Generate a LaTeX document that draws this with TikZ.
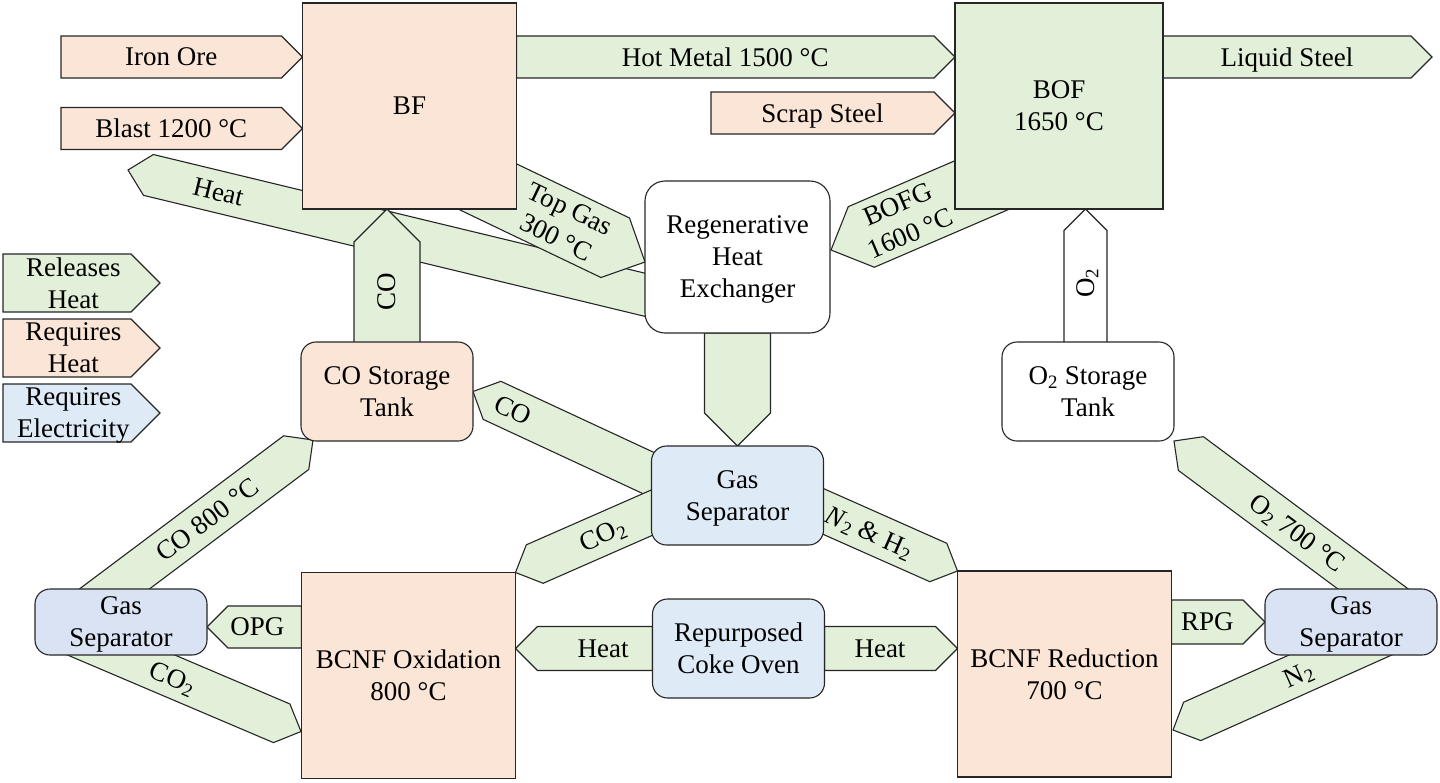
\documentclass[tikz,border=0pt]{standalone}
\usepackage{fontspec}
\setmainfont{Liberation Serif}
\usetikzlibrary{calc,backgrounds}

\definecolor{relgreen}{HTML}{E2F0D9}
\definecolor{reqpeach}{HTML}{FBE5D6}
\definecolor{elecblue}{HTML}{DEEBF7}
\definecolor{sepblue}{HTML}{DAE3F3}
\definecolor{edge}{HTML}{262626}

\tikzset{
  txt/.style={font=\fontsize{27}{32}\selectfont, align=center, text depth=0pt},
  unit/.style={txt, draw=edge, line width=1.1pt, inner sep=0pt, outer sep=0pt},
  furnace/.style={unit, minimum width=214pt, minimum height=206pt},
  tank/.style={unit, rounded corners=15pt, minimum width=172pt, minimum height=99pt},
  sepunit/.style={tank, minimum height=66pt, fill=sepblue},
  flowline/.style={draw=edge, line width=1.1pt, line join=miter},
  flowlabel/.style={txt, inner sep=0pt},
}

% fat arrow: [label opts]{label name}{fill}{tail}{tip}{half width}{label}
\newcommand{\flowarrow}[7][]{%
  \draw[flowline, fill=#3]
    ($(#4)!#6!90:(#5)$) -- ($($(#5)!#6!(#4)$)!#6!-90:(#4)$) -- (#5)
    -- ($($(#5)!#6!(#4)$)!#6!90:(#4)$) -- ($(#4)!#6!-90:(#5)$) -- cycle;
  \path (#4) -- ($(#5)!#6!(#4)$) node[flowlabel, sloped, pos=0.5, #1] (#2) {#7};}

\begin{document}
\begin{tikzpicture}[x=1pt, y=-1pt]
\useasboundingbox (0,0) rectangle (1440,782);

% units
\node[furnace, fill=reqpeach] (BF) at (409.5,106) {BF};
\node[furnace, fill=relgreen, minimum width=208pt] (BOF) at (1059,106) {BOF\\1650 °C};
\node[tank, fill=white, minimum width=185pt, minimum height=152pt, rounded corners=20pt] (HX) at (737.5,257) {Regenerative\\Heat\\Exchanger};
\node[tank, fill=reqpeach] (COtank) at (387,391.5) {CO Storage\\Tank};
\node[tank, fill=white] (O2tank) at (1088,391.5) {O\textsubscript{2} Storage\\Tank};
\node[tank, fill=elecblue] (GS) at (737.5,495.5) {Gas\\Separator};
\node[sepunit] (GSleft) at (121,622) {Gas\\Separator};
\node[sepunit] (GSright) at (1351,622) {Gas\\Separator};
\node[furnace, fill=reqpeach] (ox) at (408.5,675.5) {BCNF Oxidation\\800 °C};
\node[furnace, fill=reqpeach] (red) at (1064.5,674) {BCNF Reduction\\700 °C};
\node[tank, fill=elecblue] (coke) at (738.5,648.5) {Repurposed\\Coke Oven};

% free ends
\coordinate (ore) at (61,57);
\coordinate (blast) at (61,128.5);
\coordinate (scrap) at (711,113);
\coordinate (steel) at (1432,57);
\coordinate (hxheat) at (679,303);
\coordinate (heatend) at (128,170);
\coordinate (topgas) at (430,159);
\coordinate (topgasend) at (645,262);
\coordinate (bofg) at (1040,160);
\coordinate (bofgend) at (831,250);
\coordinate (cotail) at (387,350);
\coordinate (o2tail) at (1085.5,350);
\coordinate (gsco) at (700,497);
\coordinate (gsco2) at (700,491.5);
\coordinate (gsnh) at (775,490);
\coordinate (co800) at (73,620);
\coordinate (co800end) at (313,440);
\coordinate (opg) at (207,627);
\coordinate (lco2) at (60,629);
\coordinate (lco2end) at (301,731.5);
\coordinate (rn2) at (1400,628.3);
\coordinate (rn2end) at (1173,730);
\coordinate (o2hot) at (1400,609);
\coordinate (legrel) at (3,283);
\coordinate (legreltip) at (160,283);
\coordinate (legreq) at (3,348);
\coordinate (legreqtip) at (160,348);
\coordinate (legel) at (3,413);
\coordinate (legeltip) at (160,413);

\begin{scope}[on background layer]
\flowarrow[pos=0.868]{lHeatHX}{relgreen}{hxheat}{heatend}{21pt}{Heat}
\flowarrow[pos=0.72]{lTopGas}{relgreen}{topgas}{topgasend}{33pt}{Top Gas\\300 °C}
\flowarrow[pos=0.76]{lBOFG}{relgreen}{bofg}{bofgend}{33pt}{BOFG\\1600 °C}
\flowarrow[pos=0.54]{lCOup}{relgreen}{cotail}{BF.south -| cotail}{33pt}{CO}
\flowarrow[pos=0.56]{lO2up}{white}{o2tail}{BOF.south -| o2tail}{21.5pt}{O\textsubscript{2}}
\flowarrow{lHXGS}{relgreen}{HX.south}{GS.north}{33pt}{}
\flowarrow{lOre}{reqpeach}{ore}{BF.west |- ore}{21pt}{Iron Ore}
\flowarrow{lBlast}{reqpeach}{blast}{BF.west |- blast}{21pt}{Blast 1200 °C}
\flowarrow{lHotMetal}{relgreen}{BF.east |- ore}{BOF.west |- ore}{21pt}{Hot Metal 1500 °C}
\flowarrow{lScrap}{reqpeach}{scrap}{BOF.west |- scrap}{21pt}{Scrap Steel}
\flowarrow{lSteel}{relgreen}{BOF.east |- ore}{steel}{21pt}{Liquid Steel}
\flowarrow[pos=0.9]{lCO}{relgreen}{gsco}{COtank.east}{21pt}{CO}
\flowarrow[pos=0.59]{lCO2}{relgreen}{gsco2}{ox.north east}{21pt}{CO\textsubscript{2}}
\flowarrow[pos=0.58]{lNH}{relgreen}{gsnh}{red.north west}{21pt}{\textit{N}\textsubscript{2} \& H\textsubscript{2}}
\flowarrow[pos=0.6]{lCO800}{relgreen}{co800}{co800end}{21pt}{CO 800 °C}
\flowarrow[pos=0.51]{lCO2left}{relgreen}{lco2}{lco2end}{21pt}{CO\textsubscript{2}}
\flowarrow[pos=0.6]{lOPG}{relgreen}{ox.west |- opg}{opg}{21pt}{OPG}
\flowarrow[pos=0.43]{lHeatOx}{relgreen}{coke.west}{ox.east |- coke.west}{22pt}{Heat}
\flowarrow{lHeatRed}{relgreen}{coke.east}{red.west |- coke.east}{22pt}{Heat}
\flowarrow{lRPG}{relgreen}{red.east |- GSright.west}{GSright.west}{22pt}{RPG}
\flowarrow[pos=0.49]{lN2}{relgreen}{rn2}{rn2end}{21pt}{N\textsubscript{2}}
\flowarrow[pos=0.49]{lO2hot}{relgreen}{o2hot}{O2tank.south east}{21pt}{O\textsubscript{2} 700 °C}
\flowarrow[pos=0.55]{lRel}{relgreen}{legrel}{legreltip}{29pt}{Releases\\Heat}
\flowarrow[pos=0.55]{lReq}{reqpeach}{legreq}{legreqtip}{29pt}{Requires\\Heat}
\flowarrow[pos=0.55]{lEl}{elecblue}{legel}{legeltip}{29pt}{Requires\\Electricity}
\end{scope}
\end{tikzpicture}
\end{document}
